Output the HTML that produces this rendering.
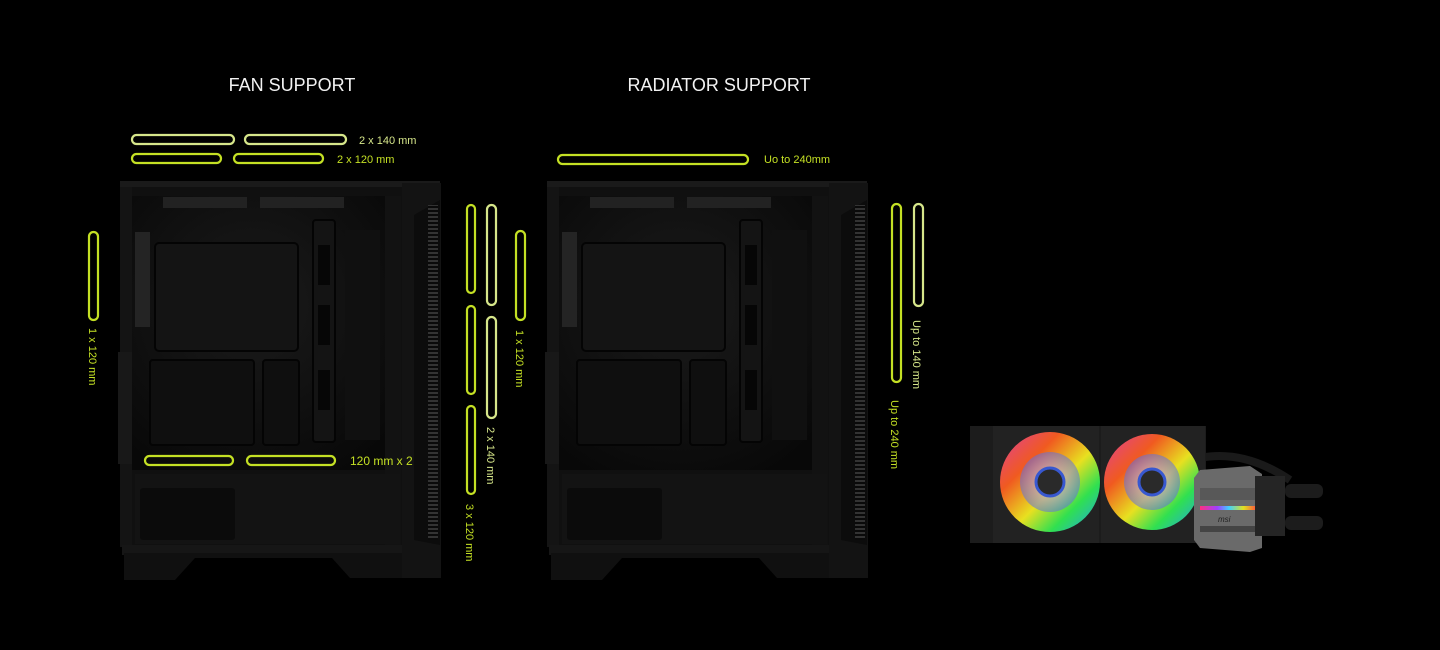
<!DOCTYPE html>
<html><head><meta charset="utf-8"><style>
html,body{margin:0;padding:0;background:#000;width:1440px;height:650px;overflow:hidden}
svg{display:block}
text{font-family:"Liberation Sans",sans-serif}
</style></head><body>
<svg width="1440" height="650" viewBox="0 0 1440 650" xmlns="http://www.w3.org/2000/svg">
<defs>
<radialGradient id="inner" cx="45%" cy="40%" r="70%">
<stop offset="0" stop-color="#1b1b1b"/><stop offset="1" stop-color="#080808"/></radialGradient>
<pattern id="vent" width="6" height="4" patternUnits="userSpaceOnUse">
<rect width="6" height="4" fill="#0a0a0a"/><rect x="0" y="0" width="6" height="2" fill="#333"/></pattern>
<g id="case">
<rect x="120" y="181" width="320" height="8" fill="#1a1a1a"/>
<rect x="120" y="187" width="285" height="360" fill="#101010"/>
<polygon points="402,183 441,183 441,578 402,578" fill="#131313"/>
<polygon points="414,215 440,200 440,545 414,540" fill="#0c0c0c"/>
<rect x="428" y="205" width="10" height="335" fill="url(#vent)"/>
<rect x="132" y="196" width="268" height="274" fill="url(#inner)"/>
<rect x="120" y="187" width="12" height="360" fill="#141414"/>
<rect x="385" y="196" width="16" height="350" fill="#121212"/>
<rect x="163" y="197" width="84" height="11" fill="#222"/>
<rect x="260" y="197" width="84" height="11" fill="#222"/>
<rect x="155" y="243" width="143" height="108" rx="4" fill="#141414" stroke="#040404" stroke-width="2"/>
<rect x="150" y="360" width="104" height="85" rx="3" fill="#0f0f0f" stroke="#040404" stroke-width="2"/>
<rect x="263" y="360" width="36" height="85" rx="3" fill="#0f0f0f" stroke="#040404" stroke-width="2"/>
<rect x="313" y="220" width="22" height="222" rx="3" fill="#141414" stroke="#040404" stroke-width="2"/>
<rect x="318" y="245" width="12" height="40" fill="#060606"/>
<rect x="318" y="305" width="12" height="40" fill="#060606"/>
<rect x="318" y="370" width="12" height="40" fill="#060606"/>
<rect x="345" y="230" width="35" height="210" fill="#101010"/>
<rect x="135" y="232" width="15" height="95" fill="#242424"/>
<rect x="135" y="474" width="265" height="70" fill="#131313"/>
<rect x="140" y="488" width="95" height="52" rx="3" fill="#0b0b0b"/>
<rect x="122" y="545" width="280" height="10" fill="#161616"/>
<rect x="118" y="352" width="14" height="112" fill="#181818"/>
<polygon points="124,553 402,553 402,578 350,578 332,558 195,558 175,580 124,580" fill="#101010"/>
</g>
</defs>

<text x="292" y="91" text-anchor="middle" font-size="18" fill="#f2f2f2">FAN SUPPORT</text>
<text x="719" y="91" text-anchor="middle" font-size="18" fill="#f2f2f2">RADIATOR SUPPORT</text>

<use href="#case"/>
<use href="#case" transform="translate(427,0)"/>

<g fill="none" stroke-width="2.2">
<rect x="132" y="135" width="102" height="9" rx="4.5" stroke="#d6e68a"/>
<rect x="245" y="135" width="101" height="9" rx="4.5" stroke="#d6e68a"/>
<rect x="132" y="154" width="89" height="9" rx="4.5" stroke="#c4e024"/>
<rect x="234" y="154" width="89" height="9" rx="4.5" stroke="#c4e024"/>
<rect x="89" y="232" width="9" height="88" rx="4.5" stroke="#c4e024"/>
<rect x="145" y="456" width="88" height="9" rx="4.5" stroke="#c4e024"/>
<rect x="247" y="456" width="88" height="9" rx="4.5" stroke="#c4e024"/>
<rect x="467" y="205" width="8" height="88" rx="4" stroke="#c4e024"/>
<rect x="467" y="306" width="8" height="88" rx="4" stroke="#c4e024"/>
<rect x="467" y="406" width="8" height="88" rx="4" stroke="#c4e024"/>
<rect x="487" y="205" width="9" height="100" rx="4.5" stroke="#d6e68a"/>
<rect x="487" y="317" width="9" height="101" rx="4.5" stroke="#d6e68a"/>
<rect x="516" y="231" width="9" height="89" rx="4.5" stroke="#c4e024"/>
<rect x="558" y="155" width="190" height="9" rx="4.5" stroke="#c4e024"/>
<rect x="892" y="204" width="9" height="178" rx="4.5" stroke="#c4e024"/>
<rect x="914" y="204" width="9" height="102" rx="4.5" stroke="#d6e68a"/>
</g>

<g font-size="11" fill="#c4e024">
<text x="359" y="144" fill="#d6e68a">2 x 140 mm</text>
<text x="337" y="163">2 x 120 mm</text>
<text x="350" y="465" font-size="12">120 mm x 2</text>
<text x="764" y="163">Uo to 240mm</text>
<text transform="translate(89,328) rotate(90)">1 x 120 mm</text>
<text transform="translate(516,330) rotate(90)">1 x 120 mm</text>
<text transform="translate(487,427) rotate(90)" fill="#d6e68a">2 x 140 mm</text>
<text transform="translate(466,504) rotate(90)">3 x 120 mm</text>
<text transform="translate(913,320) rotate(90)" fill="#d6e68a">Up to 140 mm</text>
<text transform="translate(891,400) rotate(90)">Up to 240 mm</text>
</g>

<defs>
<radialGradient id="hub" cx="50%" cy="50%" r="50%">
<stop offset="0" stop-color="#d0c8ff"/><stop offset="0.6" stop-color="#9a8cf0"/><stop offset="1" stop-color="#6070e0"/></radialGradient>
<linearGradient id="rgb" x1="0" y1="0" x2="1" y2="1">
<stop offset="0" stop-color="#e0409a"/><stop offset="0.3" stop-color="#f05a20"/><stop offset="0.55" stop-color="#e8e020"/><stop offset="0.75" stop-color="#30e050"/><stop offset="1" stop-color="#20a0f0"/></linearGradient>
<linearGradient id="bar" x1="0" x2="1"><stop offset="0" stop-color="#ff3080"/><stop offset="0.3" stop-color="#a040ff"/><stop offset="0.5" stop-color="#40d0ff"/><stop offset="0.75" stop-color="#e0e020"/><stop offset="1" stop-color="#ff4040"/></linearGradient>
</defs>
<path d="M1200,458 C1230,452 1260,460 1290,480" stroke="#1a1a1a" stroke-width="8" fill="none"/>
<rect x="970" y="426" width="236" height="117" fill="#1c1c1c"/>
<rect x="993" y="426" width="106" height="117" fill="#222"/>
<rect x="1101" y="426" width="104" height="117" fill="#222"/>
<circle cx="1050" cy="482" r="50" fill="url(#rgb)"/>
<circle cx="1050" cy="482" r="30" fill="url(#hub)" opacity="0.55"/>
<circle cx="1050" cy="482" r="14" fill="#2a2a2a" stroke="#3858d0" stroke-width="3"/>
<circle cx="1152" cy="482" r="48" fill="url(#rgb)"/>
<circle cx="1152" cy="482" r="28" fill="url(#hub)" opacity="0.55"/>
<circle cx="1152" cy="482" r="13" fill="#2a2a2a" stroke="#3858d0" stroke-width="3"/>
<polygon points="1200,470 1250,466 1262,474 1262,548 1250,552 1200,548 1194,540 1194,478" fill="#6a6a6a"/>
<rect x="1200" y="488" width="58" height="12" fill="#585858"/>
<rect x="1200" y="506" width="58" height="4" fill="url(#bar)"/>
<rect x="1200" y="526" width="58" height="6" fill="#444"/>
<text x="1218" y="522" font-size="8" fill="#222" font-style="italic">msi</text>
<rect x="1255" y="476" width="30" height="60" fill="#252525"/>
<rect x="1285" y="484" width="38" height="14" rx="6" fill="#1c1c1c"/>
<rect x="1285" y="516" width="38" height="14" rx="6" fill="#1c1c1c"/>
</svg>
</body></html>
